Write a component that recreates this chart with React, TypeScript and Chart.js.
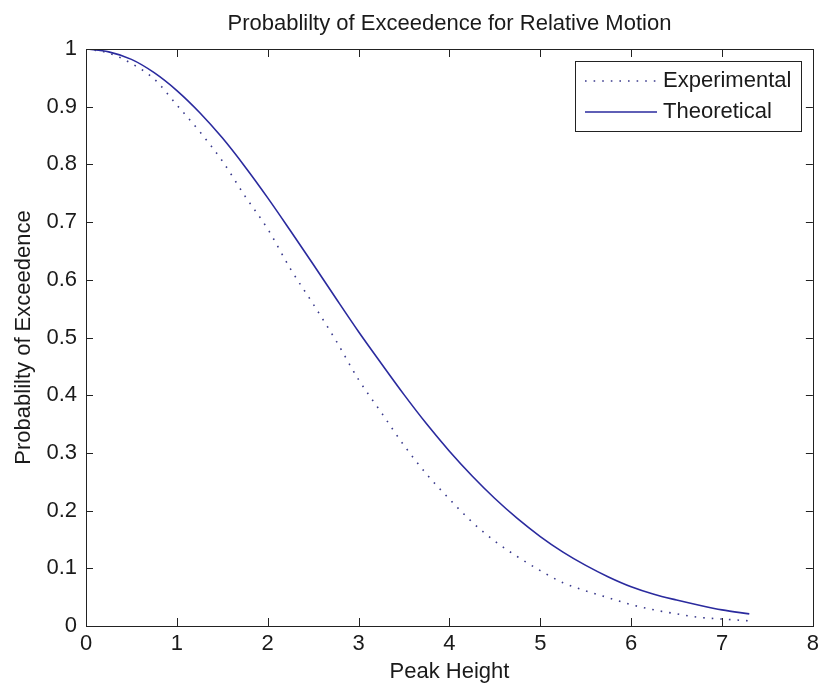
import React, { useEffect, useRef } from "react";
import { Chart, registerables } from "chart.js";

Chart.register(...registerables);

const chartTitle = "Probablilty of Exceedence for Relative Motion";
const xAxisTitle = "Peak Height";
const yAxisTitle = "Probablilty of Exceedence";
const seriesNames = ["Experimental", "Theoretical"];

const peakHeights = [
  0, 0.25, 0.5, 0.75, 1.0, 1.25, 1.5, 1.75, 2.0, 2.25, 2.5, 2.75, 3.0, 3.25, 3.5,
  3.75, 4.0, 4.25, 4.5, 4.75, 5.0, 5.25, 5.5, 5.75, 6.0, 6.25, 6.5, 6.75, 7.0, 7.3,
];
const experimental = [
  1.0, 0.993, 0.975, 0.948, 0.903, 0.857, 0.806, 0.745, 0.688, 0.619, 0.558, 0.495,
  0.427, 0.37, 0.313, 0.263, 0.22, 0.18, 0.147, 0.12, 0.096, 0.075, 0.061, 0.049,
  0.037, 0.028, 0.021, 0.015, 0.012, 0.009,
];
const theoretical = [
  1.0, 0.995, 0.982, 0.959, 0.928, 0.89, 0.846, 0.796, 0.742, 0.685, 0.627, 0.568,
  0.51, 0.455, 0.401, 0.35, 0.303, 0.26, 0.221, 0.186, 0.155, 0.128, 0.105, 0.085,
  0.068, 0.055, 0.045, 0.036, 0.028, 0.021,
];

const FONT = "'Liberation Sans', Arial, sans-serif";
const TEXT = "#1a1a1a";
const EXP_COLOR = "#3a3a8c";
const THEO_COLOR = "#2a2a9e";

const framePlugin = {
  id: "matlabFrame",
  afterDraw(chart: any) {
    const { ctx, chartArea } = chart;
    const { left, right, top, bottom } = chartArea;
    const xs = chart.scales.x;
    const ys = chart.scales.y;
    ctx.save();
    ctx.strokeStyle = "#222";
    ctx.lineWidth = 1;
    ctx.strokeRect(Math.round(left) + 0.5, Math.round(top) + 0.5, Math.round(right - left), Math.round(bottom - top));
    ctx.beginPath();
    xs.ticks.forEach((t: any) => {
      const px = Math.round(xs.getPixelForValue(t.value)) + 0.5;
      ctx.moveTo(px, bottom);
      ctx.lineTo(px, bottom - 8);
      ctx.moveTo(px, top);
      ctx.lineTo(px, top + 8);
    });
    ys.ticks.forEach((t: any) => {
      const py = Math.round(ys.getPixelForValue(t.value)) + 0.5;
      ctx.moveTo(left, py);
      ctx.lineTo(left + 7, py);
      ctx.moveTo(right, py);
      ctx.lineTo(right - 7, py);
    });
    ctx.stroke();

    // title
    ctx.fillStyle = TEXT;
    ctx.font = `22px ${FONT}`;
    ctx.textAlign = "center";
    ctx.textBaseline = "middle";
    ctx.fillText(chartTitle, (left + right) / 2, 24);

    // legend
    const lx = 575.5, ly = 61.5, lw = 226, lh = 70;
    ctx.fillStyle = "#fff";
    ctx.fillRect(lx, ly, lw, lh);
    ctx.strokeStyle = "#222";
    ctx.strokeRect(lx, ly, lw, lh);
    const rows = [81, 112];
    chart.data.datasets.forEach((ds: any, i: number) => {
      const y = rows[i];
      ctx.beginPath();
      ctx.strokeStyle = ds.borderColor;
      ctx.lineWidth = ds.borderWidth;
      ctx.setLineDash(ds.borderDash || []);
      ctx.moveTo(585, y);
      ctx.lineTo(657, y);
      ctx.stroke();
      ctx.setLineDash([]);
      ctx.fillStyle = TEXT;
      ctx.textAlign = "left";
      ctx.textBaseline = "middle";
      ctx.fillText(ds.label, 663, y);
    });
    ctx.restore();
  },
};

export default function App() {
  const ref = useRef<HTMLCanvasElement>(null);
  useEffect(() => {
    if (!ref.current) return;
    const mk = (ys: number[]) => peakHeights.map((x, i) => ({ x, y: ys[i] }));
    const chart = new Chart(ref.current, {
      type: "line",
      data: {
        datasets: [
          {
            label: seriesNames[0],
            data: mk(experimental),
            borderColor: EXP_COLOR,
            borderWidth: 1.6,
            borderDash: [1.6, 7],
            pointRadius: 0,
            fill: false,
            cubicInterpolationMode: "monotone",
          },
          {
            label: seriesNames[1],
            data: mk(theoretical),
            borderColor: THEO_COLOR,
            borderWidth: 1.6,
            pointRadius: 0,
            fill: false,
            cubicInterpolationMode: "monotone",
          },
        ],
      },
      options: {
        animation: false,
        responsive: false,
        devicePixelRatio: 1,
        layout: { padding: { left: 0, top: 49, right: 7, bottom: 0 } },
        plugins: { legend: { display: false }, title: { display: false }, tooltip: { enabled: false } },
        scales: {
          x: {
            type: "linear",
            min: 0,
            max: 8,
            grid: { display: false, drawTicks: false },
            border: { display: false },
            ticks: { stepSize: 1, padding: 5, color: TEXT, font: { family: FONT, size: 22 } },
            title: {
              display: true,
              text: xAxisTitle,
              color: TEXT,
              font: { family: FONT, size: 22 },
              padding: { top: 0, bottom: 2 },
            },
            afterFit: (s: any) => {
              s.height = 61;
            },
          },
          y: {
            type: "linear",
            min: 0,
            max: 1,
            grid: { display: false, drawTicks: false },
            border: { display: false },
            ticks: {
              stepSize: 0.1,
              padding: 9,
              color: TEXT,
              font: { family: FONT, size: 22 },
              callback: (v: any) => String(Number(Number(v).toFixed(1))),
            },
            title: {
              display: true,
              text: yAxisTitle,
              color: TEXT,
              font: { family: FONT, size: 22 },
              padding: { top: 11, bottom: 0 },
            },
            afterFit: (s: any) => {
              s.width = 86;
            },
          },
        },
      },
      plugins: [framePlugin],
    });
    return () => chart.destroy();
  }, []);
  return (
    <div style={{ position: "fixed", left: 0, top: 0, width: 824, height: 687, background: "#fff" }}>
      <canvas ref={ref} width={824} height={687} style={{ width: 824, height: 687 }} />
    </div>
  );
}
